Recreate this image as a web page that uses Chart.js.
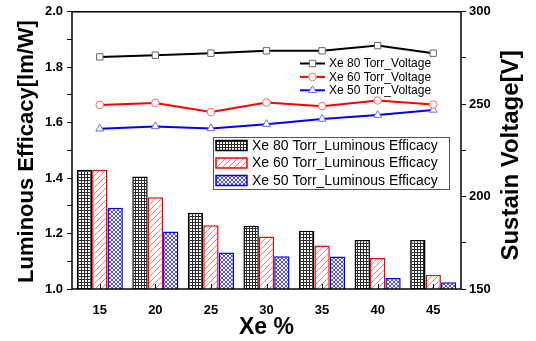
<!DOCTYPE html>
<html>
<head>
<meta charset="utf-8">
<script src="https://cdn.jsdelivr.net/npm/chart.js@4.4.1/dist/chart.umd.min.js"></script>
<style>
  html, body { margin: 0; padding: 0; background: #fff; }
  canvas { display: block; }
</style>
</head>
<body>
<canvas id="c" width="536" height="341"></canvas>
<script>
// data
const xeLabels = ['15', '20', '25', '30', '35', '40', '45'];
const eff80 = [1.430, 1.406, 1.275, 1.228, 1.210, 1.177, 1.177];
const eff60 = [1.430, 1.331, 1.230, 1.189, 1.157, 1.112, 1.051];
const eff50 = [1.293, 1.207, 1.132, 1.118, 1.117, 1.040, 1.024];
const volt80 = [275.6, 276.5, 277.6, 278.9, 278.9, 281.7, 277.6];
const volt60 = [249.6, 250.7, 245.8, 250.9, 248.9, 252.0, 249.8];
const volt50 = [236.7, 238.0, 236.9, 239.2, 242.0, 244.1, 246.9];

const FONT = '"Liberation Sans", Arial, sans-serif';
Chart.defaults.font.family = FONT;
Chart.defaults.color = '#000';

const canvas = document.getElementById('c');
const mainCtx = canvas.getContext('2d');

function makePattern(size, draw) {
  const c = document.createElement('canvas');
  c.width = c.height = size;
  const g = c.getContext('2d');
  g.fillStyle = '#fff';
  g.fillRect(0, 0, size, size);
  draw(g, size);
  return mainCtx.createPattern(c, 'repeat');
}

// square grid for 80 Torr
const gridPat = makePattern(3, (g) => {
  g.fillStyle = '#2a2a2a';
  g.fillRect(0, 0, 3, 1);
  g.fillRect(0, 0, 1, 3);
});
// single hatch for 60 Torr
const hatchPat = makePattern(6, (g, s) => {
  g.strokeStyle = '#ff7a7a';
  g.lineWidth = 1;
  g.beginPath();
  g.moveTo(-1, s + 1); g.lineTo(s + 1, -1);
  g.moveTo(-1, 1); g.lineTo(1, -1);
  g.moveTo(s - 1, s + 1); g.lineTo(s + 1, s - 1);
  g.stroke();
});
// cross hatch for 50 Torr
const crossPat = makePattern(4, (g, s) => {
  g.strokeStyle = '#4a4aff';
  g.lineWidth = 1;
  g.beginPath();
  g.moveTo(0, 0); g.lineTo(s, s);
  g.moveTo(0, s); g.lineTo(s, 0);
  g.stroke();
});

const barSets = [
  { label: 'Xe 80 Torr_Luminous Efficacy', data: eff80, fill: gridPat, edge: '#000' },
  { label: 'Xe 60 Torr_Luminous Efficacy', data: eff60, fill: hatchPat, edge: '#ff0000' },
  { label: 'Xe 50 Torr_Luminous Efficacy', data: eff50, fill: crossPat, edge: '#0000ff' }
];
const lineSets = [
  { label: 'Xe 80 Torr_Voltage', data: volt80, color: '#000', mark: '#666', style: 'rect', r: 4.5 },
  { label: 'Xe 60 Torr_Voltage', data: volt60, color: '#ff0000', mark: '#ff6a6a', style: 'circle', r: 3.8 },
  { label: 'Xe 50 Torr_Voltage', data: volt50, color: '#0000ff', mark: '#6a6aff', style: 'triangle', r: 4.5 }
];

const datasets = [];
barSets.forEach(b => datasets.push({
  type: 'bar', label: b.label, data: b.data, yAxisID: 'y',
  backgroundColor: b.fill, borderColor: b.edge, borderWidth: 1.5,
  categoryPercentage: 0.83, barPercentage: 1.0, order: 2
}));
lineSets.forEach(l => datasets.push({
  type: 'line', label: l.label, data: l.data, yAxisID: 'y1',
  borderColor: l.color, borderWidth: 2, pointStyle: l.style, pointRadius: l.r,
  pointBackgroundColor: '#fff', pointBorderColor: l.mark, pointBorderWidth: 1,
  tension: 0, order: 1
}));

// frame, inner x ticks, titles and both legends
const decorations = {
  id: 'decorations',
  afterDatasetsDraw(chart) {
    const { ctx, chartArea: a, scales } = chart;
    ctx.save();
    ctx.strokeStyle = '#000';
    ctx.lineWidth = 1;
    ctx.beginPath();
    scales.x.ticks.forEach((t, i) => {
      const x = Math.round(scales.x.getPixelForTick(i)) + 0.5;
      ctx.moveTo(x, a.bottom);
      ctx.lineTo(x, a.bottom - 5);
    });
    ctx.stroke();
    ctx.lineWidth = 1.5;
    ctx.strokeRect(a.left, a.top, a.right - a.left, a.bottom - a.top);

    // axis titles
    ctx.fillStyle = '#000';
    ctx.textAlign = 'center';
    ctx.textBaseline = 'alphabetic';
    ctx.font = 'bold 22px ' + FONT;
    ctx.save();
    ctx.translate(33, 151.5);
    ctx.rotate(-Math.PI / 2);
    ctx.fillText('Luminous Efficacy[lm/W]', 0, 0);
    ctx.restore();
    ctx.save();
    ctx.font = 'bold 24px ' + FONT;
    ctx.translate(518, 155.5);
    ctx.rotate(-Math.PI / 2);
    ctx.fillText('Sustain Voltage[V]', 0, 0);
    ctx.restore();
    ctx.font = 'bold 23px ' + FONT;
    ctx.fillText('Xe %', (a.left + a.right) / 2, 334);

    // line legend
    ctx.font = '12px ' + FONT;
    ctx.textAlign = 'left';
    ctx.textBaseline = 'middle';
    lineSets.forEach((l, i) => {
      const y = 63.5 + i * 13.4;
      ctx.strokeStyle = l.color;
      ctx.lineWidth = 2;
      ctx.beginPath();
      ctx.moveTo(300, y); ctx.lineTo(325, y);
      ctx.stroke();
      ctx.fillStyle = '#fff';
      ctx.strokeStyle = l.mark;
      ctx.lineWidth = 1;
      Chart.helpers.drawPoint(ctx, { pointStyle: l.style, radius: l.r, borderWidth: 1 }, 312.5, y);
      ctx.fillStyle = '#000';
      ctx.fillText(l.label, 329, y + 0.5);
    });

    // bar legend
    ctx.fillStyle = '#fff';
    ctx.fillRect(213, 137, 236, 52);
    ctx.strokeStyle = '#555';
    ctx.lineWidth = 1;
    ctx.strokeRect(213.5, 137.5, 236, 52);
    ctx.font = '14px ' + FONT;
    barSets.forEach((b, i) => {
      const y = 145.5 + i * 17.5;
      ctx.fillStyle = b.fill;
      ctx.fillRect(216, y - 5, 31, 10);
      ctx.strokeStyle = b.edge;
      ctx.lineWidth = 1.5;
      ctx.strokeRect(216, y - 5, 31, 10);
      ctx.fillStyle = '#000';
      ctx.fillText(b.label, 252, y + 0.5);
    });
    ctx.restore();
  }
};

new Chart(canvas, {
  type: 'bar',
  data: { labels: xeLabels, datasets: datasets },
  options: {
    responsive: false,
    animation: false,
    events: [],
    layout: { padding: { top: 10, left: 0, right: 0, bottom: 0 } },
    plugins: { legend: { display: false }, tooltip: { enabled: false } },
    scales: {
      x: {
        offset: true,
        grid: { display: false },
        border: { display: false },
        ticks: { font: { size: 13, weight: 'bold' }, padding: 6, maxRotation: 0 },
        afterFit: s => { s.height = 52; }
      },
      y: {
        position: 'left', min: 1.0, max: 2.0,
        grid: { drawOnChartArea: false, drawTicks: true, tickLength: 5, color: '#000' },
        border: { display: false },
        ticks: {
          stepSize: 0.1, autoSkip: false, padding: 4,
          font: { size: 13, weight: 'bold' },
          callback: v => (Math.round(v * 10) % 2 === 0 ? v.toFixed(1) : '')
        },
        afterFit: s => { s.width = 72; }
      },
      y1: {
        position: 'right', min: 150, max: 300,
        grid: { drawOnChartArea: false, drawTicks: true, tickLength: 5, color: '#000' },
        border: { display: false },
        ticks: {
          stepSize: 25, autoSkip: false, padding: 3,
          font: { size: 13, weight: 'bold' },
          callback: v => (v % 50 === 0 ? String(v) : '')
        },
        afterFit: s => { s.width = 75; }
      }
    }
  },
  plugins: [decorations]
});
</script>
</body>
</html>
